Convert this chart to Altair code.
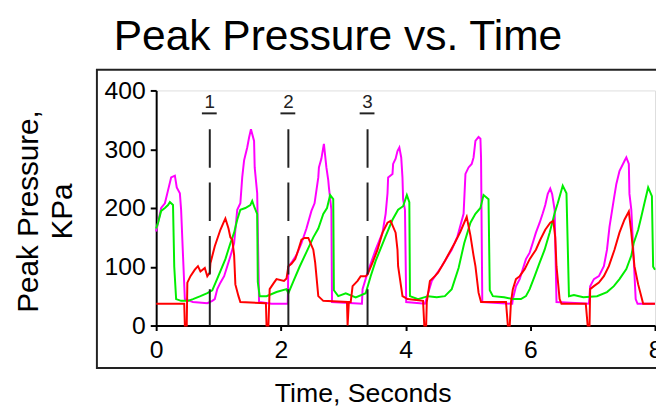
import altair as alt
import pandas as pd

chart_title = "Peak Pressure vs. Time"
x_title = "Time, Seconds"
y_title = ["Peak Pressure,", "KPa"]
x_ticks = [0, 2, 4, 6, 8]
y_ticks = [0, 100, 200, 300, 400]

magenta_t = [0.00, 0.08, 0.14, 0.19, 0.24, 0.30, 0.33, 0.38, 0.40, 0.43, 0.46, 0.59, 0.82, 0.90, 0.94, 0.98,
             1.03, 1.09, 1.14, 1.19, 1.25, 1.30, 1.35, 1.38, 1.41, 1.46, 1.49, 1.52, 1.57, 1.58, 1.62, 1.65,
             1.85, 2.11, 2.12, 2.19, 2.25, 2.33, 2.41, 2.49, 2.54, 2.60, 2.61, 2.65, 2.68, 2.69, 2.73, 2.76,
             2.77, 2.81, 2.82, 3.30, 3.31, 3.39, 3.52, 3.63, 3.68, 3.71, 3.72, 3.79, 3.80, 3.84, 3.87, 3.90,
             3.93, 3.95, 3.96, 3.99, 4.01, 4.31, 4.42, 4.58, 4.74, 4.83, 4.93, 4.96, 5.01, 5.06, 5.09, 5.12,
             5.17, 5.20, 5.21, 5.23, 5.71, 5.72, 5.77, 5.83, 5.88, 5.93, 5.99, 6.04, 6.09, 6.15, 6.20, 6.24,
             6.28, 6.32, 6.35, 6.39, 6.42, 6.94, 6.96, 7.02, 7.10, 7.18, 7.23, 7.27, 7.34, 7.38, 7.43, 7.51,
             7.54, 7.58, 7.59, 7.62, 7.69, 7.72, 8.00]
magenta_v = [160, 200, 208, 230, 252, 255, 235, 225, 197, 120, 45, 40, 38, 42, 45, 62,
             73, 84, 101, 118, 140, 197, 208, 252, 281, 303, 320, 334, 314, 269, 225, 40,
             37, 37, 100, 110, 120, 140, 165, 195, 208, 252, 269, 284, 303, 309, 269, 247,
             235, 197, 40, 37, 62, 90, 129, 158, 190, 225, 252, 258, 275, 284, 297, 303,
             286, 252, 215, 197, 40, 37, 76, 101, 129, 151, 190, 258, 269, 275, 286, 314,
             321, 318, 286, 40, 37, 45, 67, 79, 96, 113, 124, 141, 158, 175, 191, 205,
             224, 233, 224, 197, 40, 37, 67, 79, 84, 101, 129, 168, 215, 241, 263, 280,
             286, 275, 224, 197, 45, 37, 37]

green_t = [0.00, 0.03, 0.08, 0.14, 0.19, 0.22, 0.27, 0.29, 0.32, 0.40, 0.51, 0.59, 0.71, 0.82, 0.90, 0.98,
           1.11, 1.19, 1.25, 1.30, 1.35, 1.43, 1.51, 1.54, 1.58, 1.62, 1.63, 1.66, 1.77, 1.93, 2.09, 2.12,
           2.20, 2.30, 2.41, 2.52, 2.60, 2.68, 2.74, 2.79, 2.84, 2.85, 2.92, 3.04, 3.20, 3.36, 3.44, 3.52,
           3.68, 3.79, 3.88, 3.96, 4.02, 4.06, 4.07, 4.20, 4.36, 4.50, 4.63, 4.74, 4.85, 4.94, 5.04, 5.12,
           5.20, 5.25, 5.33, 5.35, 5.40, 5.58, 5.72, 5.85, 5.93, 5.99, 6.07, 6.15, 6.23, 6.31, 6.39, 6.44,
           6.52, 6.58, 6.62, 6.70, 6.85, 7.07, 7.23, 7.34, 7.43, 7.54, 7.62, 7.66, 7.73, 7.78, 7.83, 7.89,
           7.95, 7.97, 8.00]
green_v = [165, 175, 195, 200, 205, 210, 205, 100, 45, 42, 42, 45, 50, 55, 60, 80,
           113, 140, 158, 180, 197, 200, 205, 212, 200, 190, 74, 50, 50, 57, 62, 55,
           75, 100, 125, 150, 165, 190, 200, 222, 215, 60, 50, 55, 48, 55, 84, 110,
           152, 180, 197, 203, 222, 210, 50, 45, 50, 48, 50, 62, 98, 140, 175, 190,
           200, 222, 215, 60, 50, 48, 45, 45, 50, 62, 84, 107, 129, 158, 191, 208,
           238, 225, 50, 52, 48, 50, 57, 67, 79, 96, 119, 141, 163, 185, 208, 235,
           220, 100, 95]

red_t = [0.00, 0.45, 0.46, 0.49, 0.50, 0.55, 0.62, 0.67, 0.71, 0.78, 0.82, 0.86, 0.87, 0.94, 1.03, 1.08,
         1.11, 1.16, 1.19, 1.22, 1.25, 1.27, 1.32, 1.35, 1.76, 1.77, 1.80, 1.82, 1.89, 1.93, 2.05, 2.09,
         2.12, 2.17, 2.23, 2.28, 2.33, 2.38, 2.44, 2.52, 2.55, 2.60, 2.68, 3.06, 3.07, 3.09, 3.12, 3.15,
         3.23, 3.28, 3.36, 3.39, 3.47, 3.55, 3.63, 3.71, 3.76, 3.84, 3.87, 3.88, 3.95, 4.03, 4.28, 4.30,
         4.33, 4.34, 4.39, 4.47, 4.52, 4.63, 4.79, 4.88, 4.98, 5.04, 5.09, 5.12, 5.17, 5.21, 5.61, 5.64,
         5.67, 5.69, 5.72, 5.77, 5.83, 5.91, 5.99, 6.09, 6.16, 6.24, 6.32, 6.37, 6.40, 6.42, 6.47, 6.50,
         6.89, 6.92, 6.95, 6.96, 7.02, 7.10, 7.18, 7.26, 7.35, 7.43, 7.51, 7.58, 7.59, 7.62, 7.67, 7.73,
         7.81, 8.00]
red_v = [37, 37, 0, 0, 73, 84, 95, 101, 92, 98, 84, 90, 106, 135, 163, 175,
         182, 165, 150, 146, 120, 70, 50, 40, 38, 0, 0, 62, 73, 79, 76, 80,
         101, 105, 113, 129, 146, 149, 149, 129, 107, 50, 42, 40, 0, 40, 40, 67,
         76, 84, 84, 87, 107, 129, 158, 175, 178, 158, 129, 101, 50, 45, 42, 0,
         0, 40, 76, 84, 90, 110, 141, 160, 185, 153, 119, 101, 56, 40, 40, 0,
         0, 40, 62, 79, 84, 96, 113, 129, 146, 163, 175, 178, 150, 101, 45, 37,
         37, 0, 0, 62, 67, 73, 84, 101, 129, 158, 180, 194, 185, 158, 101, 70,
         37, 37]

marker_t = [0.86, 2.12, 3.39]
marker_label = ["1", "2", "3"]
marker_top = 334

FONT = "Liberation Sans"
x_scale = alt.Scale(domain=[0, 8], nice=False, zero=False)
y_scale = alt.Scale(domain=[0, 400], nice=False)

x_axis = alt.Axis(values=x_ticks, title=x_title, format="d", grid=False, labelFlush=False,
                  labelOverlap=False, labelFont=FONT, labelFontSize=25, labelColor="black",
                  labelPadding=7, tickSize=5, tickWidth=2, tickColor="black",
                  domainColor="black", domainWidth=2,
                  titleFont=FONT, titleFontSize=27, titleFontWeight="normal", titleColor="black",
                  titleX=209, titleY=77, titleAlign="center", titleBaseline="alphabetic")
y_axis = alt.Axis(values=y_ticks, title=y_title, format="d", grid=False, labelOverlap=False,
                  labelFont=FONT, labelFontSize=25, labelColor="black", labelPadding=5,
                  tickSize=6, tickWidth=2, tickColor="black", domainColor="black", domainWidth=2,
                  titleFont=FONT, titleFontSize=30, titleFontWeight="normal", titleColor="black",
                  titleAngle=270, titleX=-120, titleY=122, titleAlign="center",
                  titleBaseline="alphabetic", titleLineHeight=34)


def series(t, v, color):
    df = pd.DataFrame({"t": t, "v": v, "i": list(range(len(t)))})
    return alt.Chart(df).mark_line(color=color, strokeWidth=2).encode(
        x=alt.X("t:Q", scale=x_scale, axis=x_axis),
        y=alt.Y("v:Q", scale=y_scale, axis=y_axis),
        order="i:Q",
    )


frame = alt.Chart(pd.DataFrame({"a": [0]})).mark_rect(
    fill="white", fillOpacity=0, stroke="#222222", strokeWidth=2
).encode(x=alt.value(-60), x2=alt.value(520), y=alt.value(-21), y2=alt.value(281))

title_mark = alt.Chart(pd.DataFrame({"title": [chart_title]})).mark_text(
    font=FONT, fontSize=43, color="black", align="center", baseline="alphabetic"
).encode(x=alt.value(184), y=alt.value(-41), text="title:N")

markers = pd.DataFrame({"t": marker_t, "label": marker_label, "top": [marker_top] * len(marker_t)})
rules = alt.Chart(markers).mark_rule(color="#222222", strokeWidth=2, strokeDash=[39, 15]).encode(
    x=alt.X("t:Q", scale=x_scale, axis=x_axis),
    y=alt.Y("top:Q", scale=y_scale, axis=y_axis),
    y2=alt.datum(0),
)
labels = alt.Chart(markers).transform_calculate(ly="370").mark_text(
    font=FONT, fontSize=19, color="#222222", baseline="alphabetic", align="center"
).encode(
    x=alt.X("t:Q", scale=x_scale, axis=x_axis),
    y=alt.Y("ly:Q", scale=y_scale, axis=y_axis),
    text="label:N",
)
underlines = alt.Chart(markers).transform_calculate(uy="361").mark_rule(
    color="#222222", strokeWidth=2, xOffset=-8, x2Offset=7
).encode(
    x=alt.X("t:Q", scale=x_scale, axis=x_axis),
    x2="t:Q",
    y=alt.Y("uy:Q", scale=y_scale, axis=y_axis),
)

chart = alt.layer(
    frame, title_mark,
    series(magenta_t, magenta_v, "#ff00ff"),
    series(green_t, green_v, "#00ee00"),
    series(red_t, red_v, "#ff0000"),
    rules, labels, underlines,
).properties(
    width=505, height=238,
    autosize=alt.AutoSizeParams(type="none"),
    padding={"left": 150, "top": 81, "right": 1, "bottom": 80},
).configure_view(stroke=None).configure(background="white")

chart.save("out.html", embed_options={"renderer": "svg", "actions": False})
